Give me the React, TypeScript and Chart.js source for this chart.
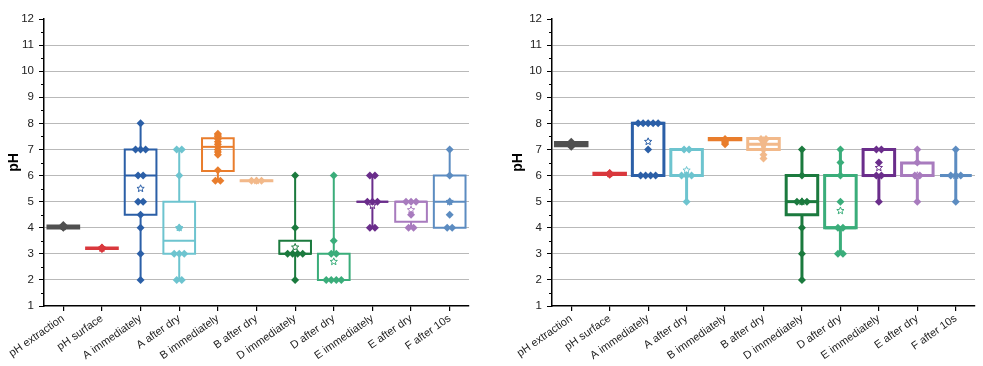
import React, { useEffect, useRef } from 'react';
import { Chart, registerables } from 'chart.js';

Chart.register(...registerables);

const categories = ['pH extraction', 'pH surface', 'A immediately', 'A after dry', 'B immediately', 'B after dry', 'D immediately', 'D after dry', 'E immediately', 'E after dry', 'F after 10s'];
const colors = ['#505050', '#d9383d', '#2b5fa7', '#6dc4cf', '#e97d2c', '#f2b98a', '#1b7a3e', '#3aad7a', '#6a2d8b', '#a87bbe', '#5c8cc1'];
const yTickValues = [1, 2, 3, 4, 5, 6, 7, 8, 9, 10, 11, 12];

// Left panel
const leftPoints = [
  [4.0, 4.02, 4.04, 4.06, 4.1],
  [3.18, 3.2, 3.22, 3.24],
  [8, 7, 7, 7, 6, 6, 5, 5, 4.5, 4, 3, 2],
  [7, 7, 6, 4, 3, 3, 3, 2, 2],
  [7.6, 7.55, 7.5, 7.4, 7.3, 7.2, 7.1, 7.0, 6.9, 6.8, 6.2, 5.8, 5.8],
  [5.8, 5.8, 5.8],
  [6, 4, 3, 3, 3, 3, 2],
  [6, 3.5, 3, 3, 2, 2, 2, 2],
  [6, 6, 5, 5, 5, 4, 4],
  [5, 5, 5, 4.5, 4, 4],
  [7, 6, 5, 4.5, 4, 4],
];
const leftQ1 = [3.97, 3.18, 4.5, 3, 6.17, 5.78, 3, 2, 5, 4.23, 4];
const leftMedian = [4.03, 3.21, 6, 3.5, 7.1, 5.8, 3, 2, 5, 5, 5];
const leftQ3 = [4.09, 3.24, 7, 5, 7.43, 5.82, 3.5, 3, 5, 5, 6];
const leftLow = [3.97, 3.18, 2, 2, 5.8, 5.78, 2, 2, 4, 4, 4];
const leftHigh = [4.1, 3.24, 8, 7, 7.6, 5.82, 6, 6, 6, 5, 7];
const leftMean = [4.04, 3.21, 5.5, 4.0, 6.95, 5.8, 3.25, 2.7, 4.85, 4.68, 5.0];

// Right panel
const rightPoints = [
  [7.1, 7.15, 7.2, 7.25, 7.3],
  [6.03, 6.06, 6.08, 6.1],
  [8, 8, 8, 8, 8, 7, 6, 6, 6, 6],
  [7, 7, 6, 6, 6, 5],
  [7.2, 7.25, 7.3, 7.35, 7.4],
  [7.4, 7.4, 7.35, 7.3, 7.2, 7.0, 6.8, 6.65],
  [7, 6, 5, 5, 5, 4, 3, 2],
  [7, 6.5, 6, 5, 4, 4, 3, 3],
  [7, 7, 6.5, 6, 6, 5],
  [7, 6.5, 6, 6, 5],
  [7, 6, 6, 6, 5],
];
const rightQ1 = [7.14, 6.04, 6, 6, 7.37, 7.0, 4.5, 4, 6, 6, 6];
const rightMedian = [7.2, 6.07, 8, 6, 7.4, 7.2, 5, 4, 6, 6, 6];
const rightQ3 = [7.27, 6.09, 8, 7, 7.42, 7.42, 6, 6, 7, 6.48, 6];
const rightLow = [7.1, 6.03, 6, 5, 7.2, 6.65, 2, 3, 5, 5, 5];
const rightHigh = [7.3, 6.1, 8, 7, 7.42, 7.42, 7, 7, 7, 7, 7];
const rightMean = [7.2, 6.07, 7.3, 6.2, 7.3, 7.2, 5.0, 4.65, 6.3, 6.0, 6];

const FONT = "'Liberation Sans', Arial, sans-serif";

function spread(points: number[][]) {
  return points.map((vals, i) => {
    const counts: Record<string, number> = {};
    const seen: Record<string, number> = {};
    vals.forEach((v) => { counts[v] = (counts[v] || 0) + 1; });
    return vals.map((v) => {
      const n = counts[v];
      const k = (seen[v] = (seen[v] ?? -1) + 1);
      return { x: i + (k - (n - 1) / 2) * 0.13, y: v };
    });
  });
}

function drawStar(ctx: CanvasRenderingContext2D, x: number, y: number, r: number, color: string) {
  ctx.save();
  ctx.beginPath();
  for (let i = 0; i < 10; i++) {
    const rad = i % 2 === 0 ? r : r * 0.45;
    const a = -Math.PI / 2 + (i * Math.PI) / 5;
    const px = x + rad * Math.cos(a);
    const py = y + rad * Math.sin(a);
    if (i === 0) ctx.moveTo(px, py); else ctx.lineTo(px, py);
  }
  ctx.closePath();
  ctx.fillStyle = '#fff';
  ctx.fill();
  ctx.strokeStyle = color;
  ctx.lineWidth = 1;
  ctx.stroke();
  ctx.restore();
}

const boxPlugin = {
  id: 'boxes',
  beforeDatasetsDraw(chart: any, _args: any, opts: any) {
    const { ctx, scales } = chart;
    const xs = scales.x;
    const ys = scales.y;
    const lw = opts.lineWidth;
    opts.q1.forEach((q1: number, i: number) => {
      const col = colors[i];
      const q3 = opts.q3[i];
      const med = opts.median[i];
      const lo = opts.low[i];
      const hi = opts.high[i];
      const xl = xs.getPixelForValue(i - 0.41);
      const xr = xs.getPixelForValue(i + 0.41);
      const xc = xs.getPixelForValue(i);
      ctx.save();
      ctx.strokeStyle = col;
      ctx.lineWidth = lw;
      ctx.lineCap = 'butt';
      ctx.beginPath();
      if (hi > q3) { ctx.moveTo(xc, ys.getPixelForValue(q3)); ctx.lineTo(xc, ys.getPixelForValue(hi)); }
      if (lo < q1) { ctx.moveTo(xc, ys.getPixelForValue(q1)); ctx.lineTo(xc, ys.getPixelForValue(lo)); }
      ctx.stroke();
      const yt = ys.getPixelForValue(q3);
      const yb = ys.getPixelForValue(q1);
      ctx.beginPath();
      ctx.rect(xl, yt, xr - xl, yb - yt);
      ctx.stroke();
      const ym = ys.getPixelForValue(med);
      ctx.beginPath();
      ctx.moveTo(xl, ym);
      ctx.lineTo(xr, ym);
      ctx.stroke();
      ctx.restore();
      drawStar(ctx, xc, ys.getPixelForValue(opts.mean[i]), 3.8, col);
    });
  },
  afterDraw(chart: any) {
    const { ctx, scales, chartArea } = chart;
    const ys = scales.y;
    ctx.save();
    ctx.strokeStyle = '#000';
    ctx.lineWidth = 1;
    ctx.beginPath();
    for (let i = 0; i < yTickValues.length - 1; i++) {
      const v = (yTickValues[i] + yTickValues[i + 1]) / 2;
      const y = Math.round(ys.getPixelForValue(v)) + 0.5;
      ctx.moveTo(chartArea.left - 3, y);
      ctx.lineTo(chartArea.left, y);
    }
    ctx.stroke();
    ctx.restore();
  },
};

type PanelProps = {
  points: number[][];
  q1: number[]; median: number[]; q3: number[]; low: number[]; high: number[]; mean: number[];
  left: number; width: number; axisW: number; titlePad: number; padRight: number; lineWidth: number;
};

function Panel(p: PanelProps) {
  const ref = useRef<HTMLCanvasElement | null>(null);
  useEffect(() => {
    if (!ref.current) return;
    const pts = spread(p.points);
    const datasets = pts.map((d, i) => ({
      label: categories[i],
      data: d,
      pointStyle: 'rectRot',
      pointRadius: 4,
      backgroundColor: colors[i],
      borderColor: colors[i],
      borderWidth: 0,
    }));
    const chart = new Chart(ref.current, {
      type: 'scatter',
      data: { datasets },
      plugins: [boxPlugin],
      options: {
        animation: false,
        responsive: false,
        maintainAspectRatio: false,
        layout: { padding: { top: 19, right: p.padRight, left: 0, bottom: 0 } },
        plugins: {
          legend: { display: false },
          tooltip: { enabled: false },
          boxes: { q1: p.q1, median: p.median, q3: p.q3, low: p.low, high: p.high, mean: p.mean, lineWidth: p.lineWidth },
        } as any,
        scales: {
          x: {
            type: 'linear',
            min: -0.5,
            max: categories.length - 0.5,
            afterBuildTicks: (s: any) => { s.ticks = categories.map((_, i) => ({ value: i })); },
            afterFit: (s: any) => { s.height = 60; },
            ticks: {
              callback: (v: any) => categories[Math.round(Number(v))] ?? '',
              minRotation: 35,
              maxRotation: 35,
              autoSkip: false,
              padding: 1,
              font: { family: FONT, size: 11 },
              color: '#222',
            },
            grid: { drawOnChartArea: false, drawTicks: true, tickLength: 5, tickColor: '#000', lineWidth: 1.2 },
            border: { color: '#000', width: 1.5 },
          },
          y: {
            min: 1,
            max: 12,
            afterBuildTicks: (s: any) => { s.ticks = yTickValues.map((v) => ({ value: v })); },
            afterFit: (s: any) => { s.width = p.axisW; },
            ticks: { stepSize: 1, padding: 5, font: { family: FONT, size: 11.5 }, color: '#222' },
            grid: {
              color: (c: any) => (c.tick && c.tick.value > 1 && c.tick.value < 12 ? '#b9b9b9' : 'rgba(0,0,0,0)'),
              tickColor: '#000',
              tickLength: 5,
              lineWidth: 1,
            },
            border: { color: '#000', width: 1.5 },
            title: {
              display: true,
              text: 'pH',
              color: '#000',
              font: { family: FONT, size: 14, weight: 'bold' },
              padding: { top: p.titlePad, bottom: 0 },
            },
          },
        },
      } as any,
    });
    return () => chart.destroy();
  }, []);
  return (
    <canvas
      ref={ref}
      width={p.width}
      height={366}
      style={{ position: 'absolute', left: p.left, top: 0, width: p.width, height: 366 }}
    />
  );
}

export default function App() {
  return (
    <div style={{ position: 'absolute', left: 0, top: 0, width: 983, height: 366, background: '#fff', overflow: 'hidden' }}>
      <Panel points={leftPoints} q1={leftQ1} median={leftMedian} q3={leftQ3} low={leftLow} high={leftHigh} mean={leftMean}
        left={0} width={490} axisW={44} titlePad={6} padRight={21} lineWidth={2} />
      <Panel points={rightPoints} q1={rightQ1} median={rightMedian} q3={rightQ3} low={rightLow} high={rightHigh} mean={rightMean}
        left={490} width={493} axisW={62} titlePad={20} padRight={8} lineWidth={3} />
    </div>
  );
}
